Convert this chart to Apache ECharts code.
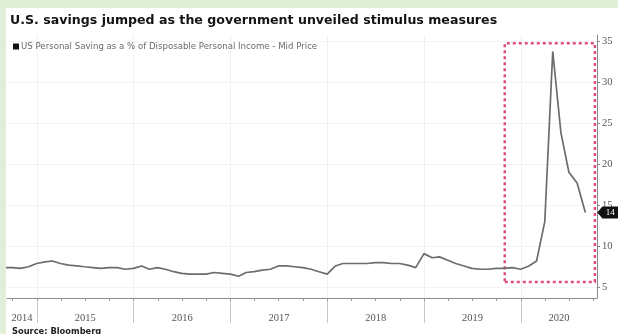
<!DOCTYPE html>
<html>
<head>
<meta charset="utf-8">
<script src="https://cdn.jsdelivr.net/npm/echarts@6/dist/echarts.min.js"></script>
<style>
  html, body { margin: 0; padding: 0; background: #e1eed8; }
  #paper { position: absolute; left: 6px; top: 8px; right: 0; bottom: 0; background: #ffffff; }
  #chart { position: absolute; left: 0; top: 0; width: 618px; height: 334px; }
</style>
</head>
<body>
<div id="paper"></div>
<div id="chart"></div>
<script>
// US personal saving rate, % of disposable personal income (monthly, month-end)
const months = [
  '2014-08','2014-09','2014-10','2014-11','2014-12',
  '2015-01','2015-02','2015-03','2015-04','2015-05','2015-06','2015-07','2015-08','2015-09','2015-10','2015-11','2015-12',
  '2016-01','2016-02','2016-03','2016-04','2016-05','2016-06','2016-07','2016-08','2016-09','2016-10','2016-11','2016-12',
  '2017-01','2017-02','2017-03','2017-04','2017-05','2017-06','2017-07','2017-08','2017-09','2017-10','2017-11','2017-12',
  '2018-01','2018-02','2018-03','2018-04','2018-05','2018-06','2018-07','2018-08','2018-09','2018-10','2018-11','2018-12',
  '2019-01','2019-02','2019-03','2019-04','2019-05','2019-06','2019-07','2019-08','2019-09','2019-10','2019-11','2019-12',
  '2020-01','2020-02','2020-03','2020-04','2020-05','2020-06','2020-07','2020-08'
];
const saving = [
  7.4, 7.4, 7.3, 7.5, 7.9,
  8.1, 8.2, 7.9, 7.7, 7.6, 7.5, 7.4, 7.3, 7.4, 7.4, 7.2, 7.3,
  7.6, 7.2, 7.4, 7.2, 6.9, 6.7, 6.6, 6.6, 6.6, 6.8, 6.7, 6.6,
  6.35, 6.8, 6.9, 7.1, 7.2, 7.6, 7.6, 7.5, 7.4, 7.2, 6.9, 6.6,
  7.6, 7.9, 7.9, 7.9, 7.9, 8.0, 8.0, 7.9, 7.9, 7.7, 7.4, 9.1,
  8.6, 8.7, 8.3, 7.9, 7.6, 7.3, 7.2, 7.2, 7.3, 7.3, 7.4, 7.2,
  7.6, 8.2, 13.0, 33.7, 23.8, 19.0, 17.7, 14.1
];
const years = [2014, 2015, 2016, 2017, 2018, 2019, 2020];
const yTicks = [5, 10, 15, 20, 25, 30, 35];
const xRange = ['2014-09-10', '2020-10-14'];
const yRange = [3.7, 35.7];
// dotted frame around the 2020 stimulus period
const highlightWindow = [['2019-11-01', 5.65], ['2020-10-06', 34.7]];

const seriesName = 'US Personal Saving as a % of Disposable Personal Income - Mid Price';

function monthEnd(ym) {
  const [y, m] = ym.split('-').map(Number);
  return Date.UTC(y, m, 0);   // last day of the month
}
function ts(s) { const [y, m, d] = s.split('-').map(Number); return Date.UTC(y, m - 1, d); }

const points = months.map((m, i) => [monthEnd(m), saving[i]]);
const xMin = ts(xRange[0]), xMax = ts(xRange[1]);

const yearStarts = years.slice(1).map(y => Date.UTC(y, 0, 1));
const quarterTicks = [];
years.forEach(y => [0, 3, 6, 9].forEach(q => {
  const t = Date.UTC(y, q, 1);
  if (t > xMin && t < xMax) quarterTicks.push(t);
}));
// year labels sit in the middle of the visible part of each year
const yearCentres = years.map(y => {
  const a = Math.max(Date.UTC(y, 0, 1), xMin);
  const b = Math.min(Date.UTC(y + 1, 0, 1), xMax);
  return (a + b) / 2;
});

const last = points[points.length - 1];
const labelFont = 'Liberation Serif';

const chart = echarts.init(document.getElementById('chart'), null, { renderer: 'canvas' });
chart.setOption({
  animation: false,
  backgroundColor: 'transparent',
  title: [
    {
      text: 'U.S. savings jumped as the government unveiled stimulus measures',
      left: 5, top: 9,
      textStyle: { fontFamily: 'DejaVu Sans', fontWeight: 'bold', fontSize: 12.6, color: '#141414' }
    },
    {
      text: 'Source: Bloomberg',
      left: 7, top: 323,
      textStyle: { fontFamily: 'DejaVu Sans', fontWeight: 'bold', fontSize: 8.3, color: '#222' }
    }
  ],
  legend: {
    left: 8, top: 37,
    itemWidth: 6, itemHeight: 6, itemGap: 4,
    icon: 'rect',
    textStyle: { fontFamily: 'DejaVu Sans', fontSize: 8.6, color: '#6a6a6a', padding: [0, 0, 0, -3] },
    data: [{ name: seriesName, itemStyle: { color: '#111' } }]
  },
  grid: { left: 7, right: 21, top: 35, bottom: 36 },
  xAxis: [
    {
      type: 'value', min: xMin, max: xMax,
      axisLine: { show: true, lineStyle: { color: '#8a8a8a', width: 1 } },
      axisTick: { show: true, customValues: yearStarts, length: 25, lineStyle: { color: '#c8c8c8' } },
      axisLabel: {
        customValues: yearCentres, margin: 15,
        formatter: v => String(new Date(v).getUTCFullYear()),
        fontFamily: labelFont, fontSize: 10.5, color: '#555'
      },
      splitLine: { show: true, lineStyle: { color: '#f1f1f1', width: 1 } }
    },
    {
      type: 'value', min: xMin, max: xMax, position: 'bottom',
      axisLine: { show: false },
      axisTick: { show: true, customValues: quarterTicks, length: 3, lineStyle: { color: '#9a9a9a' } },
      axisLabel: { show: false },
      splitLine: { show: false }
    }
  ],
  yAxis: {
    type: 'value', position: 'right', min: yRange[0], max: yRange[1],
    axisLine: { show: true, lineStyle: { color: '#8a8a8a' } },
    axisTick: { show: true, customValues: yTicks, length: 3, lineStyle: { color: '#8a8a8a' } },
    axisLabel: { customValues: yTicks, margin: 5, fontFamily: labelFont, fontSize: 10.5, color: '#555' },
    splitLine: { show: true, lineStyle: { color: '#f3f3f3' } }
  },
  series: [{
    name: seriesName,
    type: 'line',
    data: points,
    showSymbol: false,
    symbol: 'none',
    clip: true,
    itemStyle: { color: '#111' },
    lineStyle: { color: '#6c6c6c', width: 1.7 },
    markArea: {
      silent: true,
      itemStyle: { color: 'rgba(0,0,0,0)', borderColor: '#de4f7c', borderWidth: 2.5, borderType: [3, 3] },
      data: [[
        { coord: [ts(highlightWindow[0][0]), highlightWindow[0][1]] },
        { coord: [ts(highlightWindow[1][0]), highlightWindow[1][1]] }
      ]]
    },
    markPoint: {
      silent: true,
      symbol: 'path://M0,6 L5,0 L22,0 L22,12 L5,12 Z',
      symbolSize: [22, 12],
      symbolOffset: [23, 0],
      itemStyle: { color: '#111' },
      label: {
        show: true, color: '#fff', fontFamily: labelFont, fontSize: 9,
        offset: [2, 0],
        formatter: p => String(Math.round(p.value))
      },
      data: [{ coord: last, value: last[1] }]
    }
  }]
});
</script>
</body>
</html>
